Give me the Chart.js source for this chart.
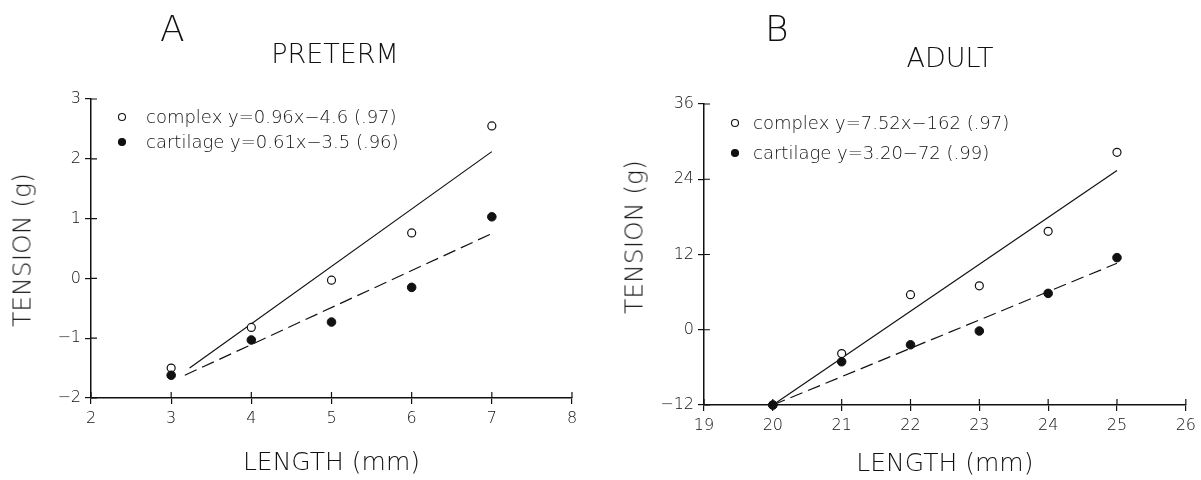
<!DOCTYPE html>
<html lang="en">
<head>
<meta charset="utf-8">
<title>Tension vs length</title>
<script src="https://cdn.jsdelivr.net/npm/chart.js@4.4.1/dist/chart.umd.min.js"></script>
<style>
  body { margin: 0; background: #fff; }
  #wrap { position: relative; width: 1201px; height: 480px; font-family: "DejaVu Sans", sans-serif; font-weight: 200; color: #111; }
  .box { position: absolute; top: 0; height: 480px; }
  .lbl { position: absolute; line-height: 1; white-space: nowrap; }
  .ytitle { position: absolute; font-size: 25px; line-height: 1; white-space: nowrap; transform: translate(-50%, -50%) rotate(-90deg); }
</style>
</head>
<body>
<div id="wrap">
  <div class="box" style="left:0;width:600px"><canvas id="chartA" width="600" height="480"></canvas></div>
  <div class="box" style="left:600px;width:601px"><canvas id="chartB" width="601" height="480"></canvas></div>
  <div class="lbl" style="left:160px;top:11px;font-size:36px">A</div>
  <div class="lbl" style="left:235px;top:40px;width:200px;text-align:center;font-size:27px">PRETERM</div>
  <div class="lbl" style="left:765px;top:11px;font-size:36px">B</div>
  <div class="lbl" style="left:850px;top:44px;width:200px;text-align:center;font-size:27px">ADULT</div>
  <div class="ytitle" style="left:22px;top:250px">TENSION (g)</div>
  <div class="ytitle" style="left:634px;top:237px">TENSION (g)</div>
</div>
<script>
// panel A - preterm
const lenA = [3, 4, 5, 6, 7];
const complexA = [-1.5, -0.82, -0.03, 0.76, 2.55];
const cartilageA = [-1.62, -1.03, -0.73, -0.15, 1.03];
const fitComplexXA = [3.23, 7];
const fitComplexYA = [-1.5, 2.12];
const fitCartXA = [3.17, 7];
const fitCartYA = [-1.62, 0.75];
const labelsA = ['complex y=0.96x\u22124.6 (.97)', 'cartilage y=0.61x\u22123.5 (.96)'];

// panel B - adult
const lenB = [20, 21, 22, 23, 24, 25];
const complexB = [-12, -3.8, 5.6, 7.0, 15.7, 28.3];
const cartilageB = [-12, -5.1, -2.4, -0.2, 5.8, 11.5];
const fitComplexXB = [20, 25];
const fitComplexYB = [-12, 25.4];
const fitCartXB = [20, 25];
const fitCartYB = [-12, 10.6];
const labelsB = ['complex y=7.52x\u2212162 (.97)', 'cartilage y=3.20\u221272 (.99)'];

const INK = '#111';
const FONT = "'DejaVu Sans', sans-serif";

function pts(xs, ys) {
    return xs.map((x, i) => ({x: x, y: ys[i]}));
}

// short ticks on the inside of both axes, so they cross the axis line
const innerTicks = {
    id: 'innerTicks',
    afterDraw(chart) {
        const ctx = chart.ctx, a = chart.chartArea, x = chart.scales.x, y = chart.scales.y;
        ctx.save();
        ctx.strokeStyle = INK;
        ctx.lineWidth = 1.2;
        ctx.beginPath();
        x.ticks.forEach(t => {
            const px = x.getPixelForValue(t.value);
            ctx.moveTo(px, a.bottom);
            ctx.lineTo(px, a.bottom - 6);
        });
        y.ticks.forEach(t => {
            const py = y.getPixelForValue(t.value);
            ctx.moveTo(a.left, py);
            ctx.lineTo(a.left + 6, py);
        });
        ctx.stroke();
        ctx.restore();
    }
};

// legend drawn inside the plot, top left
const insideLegend = {
    id: 'insideLegend',
    afterDraw(chart, args, opts) {
        const ctx = chart.ctx, a = chart.chartArea;
        ctx.save();
        ctx.font = '200 18px ' + FONT;
        ctx.textBaseline = 'middle';
        chart.data.datasets.filter(d => d.inLegend).forEach((d, i) => {
            const cx = a.left + opts.x;
            const cy = a.top + opts.y + i * opts.gap;
            ctx.beginPath();
            ctx.arc(cx, cy, 3.5, 0, Math.PI * 2);
            ctx.fillStyle = d.pointBackgroundColor;
            ctx.fill();
            ctx.strokeStyle = INK;
            ctx.lineWidth = 1.1;
            ctx.stroke();
            ctx.fillStyle = INK;
            ctx.fillText(d.label, cx + opts.textGap, cy + 1);
        });
        ctx.restore();
    }
};

function minusTick(v) {
    return v < 0 ? '\u2212' + Math.abs(v) : '' + v;
}

function makeChart(id, cfg) {
    const tickFont = {family: FONT, size: 16, weight: 200};
    const titleFont = {family: FONT, size: 25, weight: 200};
    return new Chart(document.getElementById(id), {
        type: 'scatter',
        data: {
            datasets: [
                {label: cfg.labels[0], inLegend: true, data: cfg.complex, showLine: false, clip: false, order: 1,
                 pointRadius: 4, pointBorderWidth: 1.2, pointBackgroundColor: '#fff', pointBorderColor: INK},
                {label: cfg.labels[1], inLegend: true, data: cfg.cartilage, showLine: false, clip: false, order: 0,
                 pointRadius: 4.3, pointBorderWidth: 1, pointBackgroundColor: INK, pointBorderColor: INK},
                {label: 'complex fit', data: cfg.fitComplex, showLine: true, pointRadius: 0, order: 2,
                 borderColor: INK, borderWidth: 1.2},
                {label: 'cartilage fit', data: cfg.fitCart, showLine: true, pointRadius: 0, order: 2,
                 borderColor: INK, borderWidth: 1.2, borderDash: [13, 6]}
            ]
        },
        options: {
            responsive: false,
            animation: false,
            layout: {padding: {left: 0, top: cfg.top, right: cfg.right, bottom: 0}},
            plugins: {
                legend: {display: false},
                tooltip: {enabled: false},
                insideLegend: cfg.legend
            },
            scales: {
                x: {
                    type: 'linear', min: cfg.xMin, max: cfg.xMax,
                    afterFit: s => { s.height = cfg.xh; },
                    border: {color: INK, width: 1.5},
                    grid: {drawOnChartArea: false, tickLength: 6, color: INK, lineWidth: 1.2},
                    ticks: {stepSize: 1, color: INK, font: tickFont, padding: 5, maxRotation: 0},
                    title: {display: true, text: 'LENGTH (mm)', color: INK, font: titleFont,
                            padding: {top: 0, bottom: cfg.xTitlePad}}
                },
                y: {
                    type: 'linear', min: cfg.yMin, max: cfg.yMax,
                    afterFit: s => { s.width = cfg.yw; },
                    border: {color: INK, width: 1.5},
                    grid: {drawOnChartArea: false, tickLength: 6, color: INK, lineWidth: 1.2},
                    ticks: {stepSize: cfg.yStep, color: INK, font: tickFont, padding: 4, callback: minusTick}
                }
            }
        },
        plugins: [innerTicks, insideLegend]
    });
}

makeChart('chartA', {
    labels: labelsA,
    complex: pts(lenA, complexA),
    cartilage: pts(lenA, cartilageA),
    fitComplex: pts(fitComplexXA, fitComplexYA),
    fitCart: pts(fitCartXA, fitCartYA),
    xMin: 2, xMax: 8, yMin: -2, yMax: 3, yStep: 1,
    top: 99, right: 28, yw: 91, xh: 82, xTitlePad: 2,
    legend: {x: 31, y: 18, gap: 25, textGap: 24}
});

makeChart('chartB', {
    labels: labelsB,
    complex: pts(lenB, complexB),
    cartilage: pts(lenB, cartilageB),
    fitComplex: pts(fitComplexXB, fitComplexYB),
    fitCart: pts(fitCartXB, fitCartYB),
    xMin: 19, xMax: 26, yMin: -12, yMax: 36, yStep: 12,
    top: 104, right: 13, yw: 104, xh: 75, xTitlePad: 1,
    legend: {x: 31, y: 19, gap: 30, textGap: 18}
});
</script>
</body>
</html>
